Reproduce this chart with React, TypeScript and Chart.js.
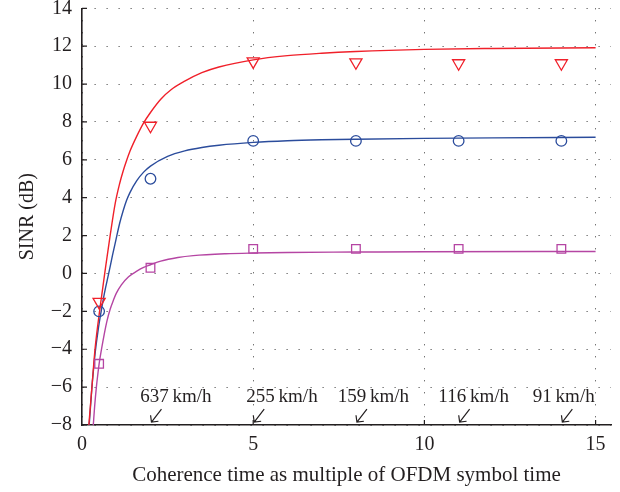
import React, { useEffect, useRef } from 'react';
import { Chart, registerables } from 'chart.js';

Chart.register(...registerables);

// ---- data ----
const markerX = [0.5, 2, 5, 8, 11, 14];
const redMarkers = [-1.5, 7.8, 11.2, 11.15, 11.1, 11.1];
const blueMarkers = [-2.0, 5.0, 7.0, 7.0, 7.0, 7.0];
const magentaMarkers = [-4.77, 0.3, 1.3, 1.3, 1.3, 1.3];

const redCurveX = [0.2, 0.29, 0.38, 0.52, 0.69, 0.83, 0.97, 1.1, 1.2, 1.3, 1.4, 1.6, 1.8, 2.0, 2.3, 2.6, 3.0, 3.5, 4, 5, 6, 7, 8, 10, 12, 15];
const redCurveY = [-8, -6, -4, -1.9, 0.35, 2.1, 3.7, 4.75, 5.4, 5.95, 6.45, 7.25, 7.95, 8.5, 9.2, 9.7, 10.15, 10.6, 10.9, 11.28, 11.5, 11.63, 11.72, 11.83, 11.88, 11.92];
const blueCurveX = [0.21, 0.25, 0.29, 0.34, 0.39, 0.47, 0.56, 0.66, 0.78, 0.89, 1.0, 1.1, 1.2, 1.3, 1.4, 1.6, 1.8, 2.0, 2.5, 3.0, 3.5, 4, 5, 6, 7, 8, 10, 12, 15];
const blueCurveY = [-8, -7, -6, -5, -4.1, -3.0, -2, -1, 0, 0.95, 1.85, 2.65, 3.3, 3.85, 4.27, 4.9, 5.35, 5.67, 6.18, 6.47, 6.65, 6.77, 6.92, 7.01, 7.06, 7.09, 7.13, 7.16, 7.19];
const magentaCurveX = [0.33, 0.37, 0.42, 0.46, 0.5, 0.57, 0.65, 0.73, 0.82, 0.92, 1.0, 1.15, 1.36, 1.6, 1.8, 2.0, 2.3, 2.8, 3.25, 4.2, 5, 6, 8, 10, 15];
const magentaCurveY = [-8, -7, -6, -5.35, -4.77, -4.0, -3.2, -2.5, -1.9, -1.4, -1.05, -0.6, -0.17, 0.12, 0.32, 0.46, 0.65, 0.84, 0.94, 1.04, 1.08, 1.11, 1.13, 1.15, 1.16];

const xTickValues = [0, 5, 10, 15];
const speedLabels = ['637\u2009km/h', '255\u2009km/h', '159\u2009km/h', '116\u2009km/h', '91\u2009km/h'];
const speedArrowX = [2, 5, 8, 11, 14];
const speedLabelX = [2.74, 5.84, 8.51, 11.44, 14.07];
const speedLabelY = -6.78;
const speedArrowY = -7.85;

const X_TITLE = 'Coherence time as multiple of OFDM symbol time';
const Y_TITLE = 'SINR (dB)';

// ---- styles ----
const FONT = "'Liberation Serif', 'Times New Roman', serif";
const TEXT = '#231f20';
const RED = '#f0202a';
const BLUE = '#2b4c9c';
const MAGENTA = '#b545a3';
const GRID = '#3a3a3a';

const pts = (xs: number[], ys: number[]) => xs.map((x, i) => ({ x, y: ys[i] }));

const innerTicks = {
  id: 'innerTicks',
  afterDraw(chart: any) {
    const { ctx, chartArea, scales } = chart;
    const xs = scales.x;
    const ys = scales.y;
    ctx.save();
    ctx.strokeStyle = TEXT;
    ctx.lineWidth = 1.2;
    ctx.beginPath();
    ys.ticks.forEach((t: any) => {
      const py = ys.getPixelForValue(t.value);
      ctx.moveTo(chartArea.left, py);
      ctx.lineTo(chartArea.left + 5, py);
    });
    xs.ticks.forEach((t: any) => {
      if (t.value === 0) return;
      const px = xs.getPixelForValue(t.value);
      ctx.moveTo(px, chartArea.bottom);
      ctx.lineTo(px, chartArea.bottom - 5);
    });
    ctx.stroke();
    ctx.restore();
  },
};

const speedNotes = {
  id: 'speedNotes',
  afterDraw(chart: any) {
    const { ctx, scales } = chart;
    const xs = scales.x;
    const ys = scales.y;
    ctx.save();
    ctx.fillStyle = TEXT;
    ctx.strokeStyle = TEXT;
    ctx.lineWidth = 1.2;
    ctx.font = `19px ${FONT}`;
    ctx.textAlign = 'center';
    ctx.textBaseline = 'alphabetic';
    speedLabels.forEach((label, i) => {
      ctx.fillText(label, xs.getPixelForValue(speedLabelX[i]), ys.getPixelForValue(speedLabelY));
      const tx = xs.getPixelForValue(speedArrowX[i]) + 1;
      const ty = ys.getPixelForValue(speedArrowY);
      const dx = 10;
      const dy = -13;
      ctx.beginPath();
      ctx.moveTo(tx + dx, ty + dy);
      ctx.lineTo(tx, ty);
      const ang = Math.atan2(dy, dx);
      const len = 7;
      ctx.moveTo(tx + Math.cos(ang + Math.PI / 4) * len, ty + Math.sin(ang + Math.PI / 4) * len);
      ctx.lineTo(tx, ty);
      ctx.lineTo(tx + Math.cos(ang - Math.PI / 4) * len, ty + Math.sin(ang - Math.PI / 4) * len);
      ctx.stroke();
    });
    ctx.restore();
  },
};

export default function App() {
  const ref = useRef<HTMLCanvasElement | null>(null);

  useEffect(() => {
    if (!ref.current) return;
    const curve = (xs: number[], ys: number[], color: string) => ({
      type: 'line' as const,
      data: pts(xs, ys),
      borderColor: color,
      backgroundColor: color,
      borderWidth: 1.4,
      pointRadius: 0,
      fill: false,
      cubicInterpolationMode: 'monotone' as const,
    });
    const markers = (ys: number[], color: string, style: string, radius: number, rotation = 0) => ({
      type: 'line' as const,
      data: pts(markerX, ys),
      showLine: false,
      borderColor: color,
      backgroundColor: 'rgba(0,0,0,0)',
      pointStyle: style,
      pointRadius: radius,
      pointRotation: rotation,
      pointBorderWidth: 1.3,
      pointBorderColor: color,
      pointBackgroundColor: 'rgba(0,0,0,0)',
    });

    const chart = new Chart(ref.current, {
      type: 'line',
      data: {
        datasets: [
          markers(redMarkers, RED, 'triangle', 7, 180),
          markers(blueMarkers, BLUE, 'circle', 5.3),
          markers(magentaMarkers, MAGENTA, 'rect', 6.1),
          curve(redCurveX, redCurveY, RED),
          curve(blueCurveX, blueCurveY, BLUE),
          curve(magentaCurveX, magentaCurveY, MAGENTA),
        ] as any,
      },
      options: {
        animation: false,
        responsive: false,
        devicePixelRatio: 1,
        layout: { padding: { top: 8, right: 9, left: 0, bottom: 0 } },
        plugins: { legend: { display: false }, tooltip: { enabled: false } },
        scales: {
          x: {
            type: 'linear',
            min: 0,
            max: 15.45,
            afterBuildTicks: (s: any) => {
              s.ticks = xTickValues.map((v) => ({ value: v }));
            },
            afterFit: (s: any) => {
              s.height = 67;
              s.paddingLeft = 0;
              s.paddingRight = 0;
            },
            ticks: { font: { family: FONT, size: 20 }, color: TEXT, padding: 8, maxRotation: 0 },
            grid: { color: GRID, lineWidth: 1, drawTicks: false },
            border: { display: true, color: TEXT, width: 1.6, dash: [1, 11] },
            title: {
              display: true,
              text: X_TITLE,
              font: { family: FONT, size: 21 },
              color: TEXT,
              padding: { top: 0, bottom: 4 },
            },
          },
          y: {
            type: 'linear',
            min: -8,
            max: 14,
            afterFit: (s: any) => {
              s.width = 82;
              s.paddingTop = 0;
              s.paddingBottom = 0;
            },
            ticks: {
              stepSize: 2,
              font: { family: FONT, size: 20 },
              color: TEXT,
              padding: 10,
              callback: (v: any) => String(v).replace('-', '\u2212'),
            },
            grid: { color: GRID, lineWidth: 1, drawTicks: false },
            border: { display: true, color: TEXT, width: 1.6, dash: [1, 11] },
            title: {
              display: true,
              text: Y_TITLE,
              font: { family: FONT, size: 20 },
              color: TEXT,
              padding: { top: 16, bottom: 0 },
            },
          },
        },
      } as any,
      plugins: [innerTicks, speedNotes],
    });
    return () => chart.destroy();
  }, []);

  return (
    <div style={{ position: 'absolute', left: 0, top: 0, width: 620, height: 492, background: '#fff' }}>
      <canvas ref={ref} width={620} height={492} style={{ width: 620, height: 492, display: 'block' }} />
    </div>
  );
}
